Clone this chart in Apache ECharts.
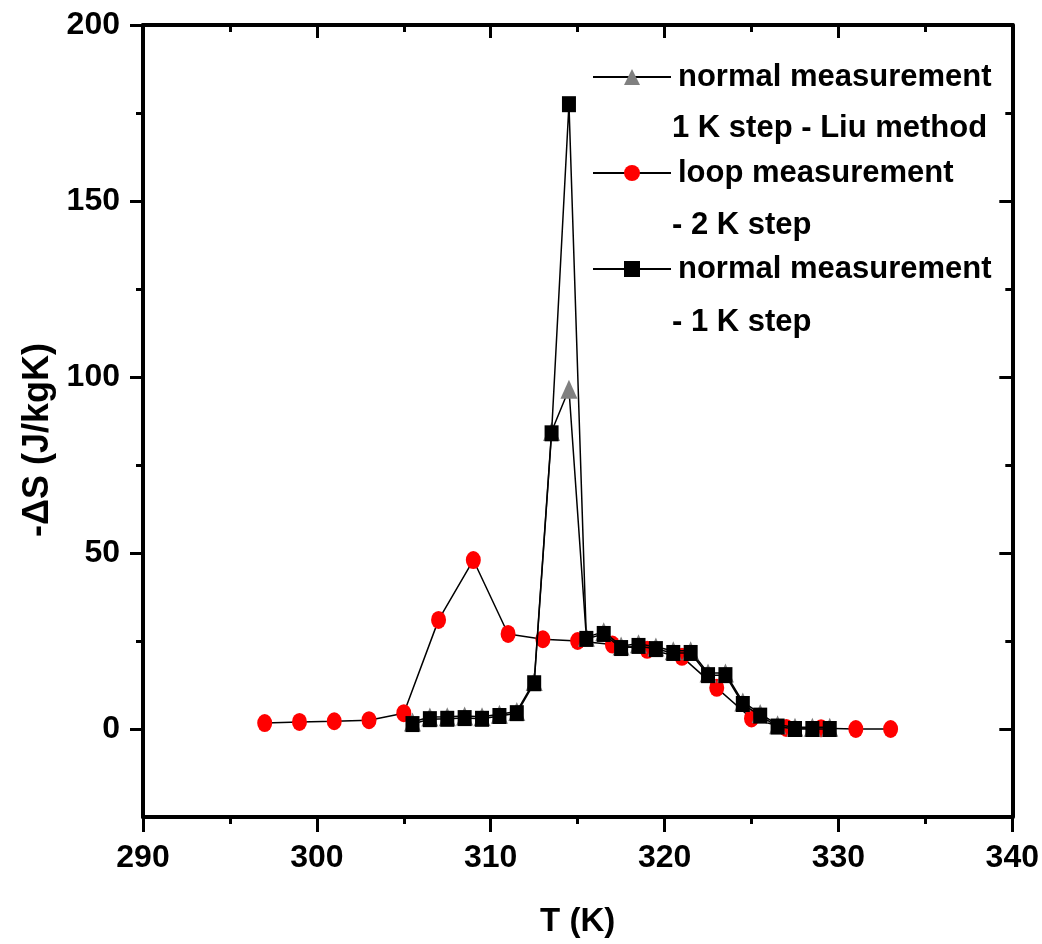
<!DOCTYPE html>
<html>
<head>
<meta charset="utf-8">
<script src="https://cdn.jsdelivr.net/npm/echarts@6/dist/echarts.min.js"></script>
<style>html,body{margin:0;padding:0;background:#fff}#c{width:1042px;height:944px}</style>
</head>
<body>
<div id="c"></div>
<script>
// Loop measurement - 2 K step (red circles)
const loopT = [297, 299, 301, 303, 305, 307, 309, 311, 313, 315, 317, 319, 321, 323, 325, 327, 329, 331, 333];
const loopS = [1.7, 2.0, 2.2, 2.5, 4.5, 31.0, 48.0, 27.0, 25.5, 25.0, 24.0, 22.5, 20.5, 11.7, 3.0, 0.3, 0.2, 0.0, 0.0];
// Normal measurement - 1 K step (black squares)
const normT = [305.5, 306.5, 307.5, 308.5, 309.5, 310.5, 311.5, 312.5, 313.5, 314.5, 315.5, 316.5, 317.5, 318.5, 319.5, 320.5, 321.5, 322.5, 323.5, 324.5, 325.5, 326.5, 327.5, 328.5, 329.5];
const normS = [1.4, 2.8, 2.9, 3.1, 2.9, 3.7, 4.5, 13.0, 84.0, 177.5, 25.6, 27.0, 23.0, 23.6, 22.7, 21.6, 21.6, 15.3, 15.3, 7.1, 3.8, 0.7, 0.0, 0.0, 0.0];
// Normal measurement 1 K step - Liu method (grey triangles)
const liuT = [305.5, 306.5, 307.5, 308.5, 309.5, 310.5, 311.5, 312.5, 313.5, 314.5, 315.5, 316.5, 317.5, 318.5, 319.5, 320.5, 321.5, 322.5, 323.5, 324.5, 325.5, 326.5, 327.5, 328.5, 329.5];
const liuS = [2.0, 3.4, 3.5, 3.7, 3.5, 4.2, 5.0, 13.5, 84.5, 96.5, 26.1, 27.6, 23.6, 24.2, 23.3, 22.2, 22.2, 15.9, 15.9, 7.7, 4.4, 1.2, 0.5, 0.5, 0.5];

const xTicks = [290, 300, 310, 320, 330, 340];
const yMajor = [0, 50, 100, 150, 200];
const yMinor = [25, 75, 125, 175];

const names = ['normal measurement', 'loop measurement', 'normal measurement '];
const secondLines = ['1 K step - Liu method', '- 2 K step', '- 1 K step'];

const FONT = '"Liberation Sans", Arial, sans-serif';
const zip = (a, b) => a.map((v, i) => [v, b[i]]);

const chart = echarts.init(document.getElementById('c'), null, {renderer: 'canvas'});
const axisLine = {show: true, onZero: false, lineStyle: {color: '#000', width: 4}};
const noLine = {show: false, onZero: false};
const gridPos = {left: 143, top: 25, right: 29, bottom: 127};
const tickStyle = {width: 3, color: '#000'};

const baseY = {
  type: 'value', min: -25, max: 200, splitLine: {show: false}
};

chart.setOption({
  animation: false,
  backgroundColor: '#fff',
  grid: Object.assign({}, gridPos, {containLabel: false}),
  xAxis: [
    {
      type: 'value', position: 'bottom', min: 290, max: 340, interval: 10,
      axisLine: axisLine,
      axisTick: {show: true, inside: false, length: 15, lineStyle: tickStyle},
      minorTick: {show: true, splitNumber: 2, length: 7, lineStyle: tickStyle},
      axisLabel: {show: true, margin: 25, color: '#000', fontFamily: FONT, fontWeight: 'bold', fontSize: 32},
      splitLine: {show: false}, minorSplitLine: {show: false},
      name: 'T (K)', nameLocation: 'middle', nameGap: 88,
      nameTextStyle: {color: '#000', fontFamily: FONT, fontWeight: 'bold', fontSize: 33}
    },
    {
      type: 'value', position: 'top', min: 290, max: 340, interval: 10,
      axisLine: axisLine,
      axisTick: {show: true, inside: true, length: 13, lineStyle: tickStyle},
      minorTick: {show: true, splitNumber: 2, length: 7, lineStyle: tickStyle},
      axisLabel: {show: false}, splitLine: {show: false}
    }
  ],
  yAxis: [
    Object.assign({}, baseY, {
      position: 'left',
      axisLine: axisLine,
      axisTick: {show: true, inside: false, length: 13, customValues: yMajor, lineStyle: tickStyle},
      axisLabel: {show: true, margin: 23, customValues: yMajor, color: '#000', fontFamily: FONT, fontWeight: 'bold', fontSize: 32},
      name: '-\u0394S (J/kgK)', nameLocation: 'middle', nameGap: 84, nameRotate: 90,
      nameTextStyle: {color: '#000', fontFamily: FONT, fontWeight: 'bold', fontSize: 36, padding: [0, 38, 0, 0]}
    }),
    Object.assign({}, baseY, {
      position: 'left',
      axisLine: noLine,
      axisTick: {show: true, inside: false, length: 7, customValues: yMinor, lineStyle: tickStyle},
      axisLabel: {show: false}
    }),
    Object.assign({}, baseY, {
      position: 'right',
      axisLine: axisLine,
      axisTick: {show: true, inside: true, length: 13, customValues: yMajor, lineStyle: tickStyle},
      axisLabel: {show: false}
    }),
    Object.assign({}, baseY, {
      position: 'right',
      axisLine: noLine,
      axisTick: {show: true, inside: true, length: 7, customValues: yMinor, lineStyle: tickStyle},
      axisLabel: {show: false}
    })
  ],
  legend: {
    orient: 'vertical', left: 587, top: 52,
    itemWidth: 78, itemHeight: 20, itemGap: 56,
    data: [names[0], names[1], names[2]],
    formatter: n => n.trim(),
    textStyle: {color: '#000', fontFamily: FONT, fontWeight: 'bold', fontSize: 31, lineHeight: 40, padding: [0, 0, 0, 2]}
  },
  graphic: secondLines.map((t, i) => ({
    type: 'text', left: 672, top: [113, 210, 307][i], silent: true,
    style: {text: t, fill: '#000', font: 'bold 31px ' + FONT}
  })),
  series: [
    {
      name: names[1], type: 'line', xAxisIndex: 0, yAxisIndex: 0,
      data: zip(loopT, loopS),
      symbol: 'circle', symbolSize: [15, 18],
      itemStyle: {color: '#ff0000'},
      lineStyle: {color: '#000', width: 1.5},
      z: 2
    },
    {
      name: names[0], type: 'line', xAxisIndex: 0, yAxisIndex: 0,
      data: zip(liuT, liuS),
      symbol: 'triangle', symbolSize: [17, 19],
      itemStyle: {color: '#808080'},
      lineStyle: {color: '#000', width: 1.5},
      z: 3
    },
    {
      name: names[2], type: 'line', xAxisIndex: 0, yAxisIndex: 0,
      data: zip(normT, normS),
      symbol: 'rect', symbolSize: [14, 16],
      itemStyle: {color: '#000'},
      lineStyle: {color: '#000', width: 1.5},
      z: 4
    }
  ]
});
</script>
</body>
</html>
